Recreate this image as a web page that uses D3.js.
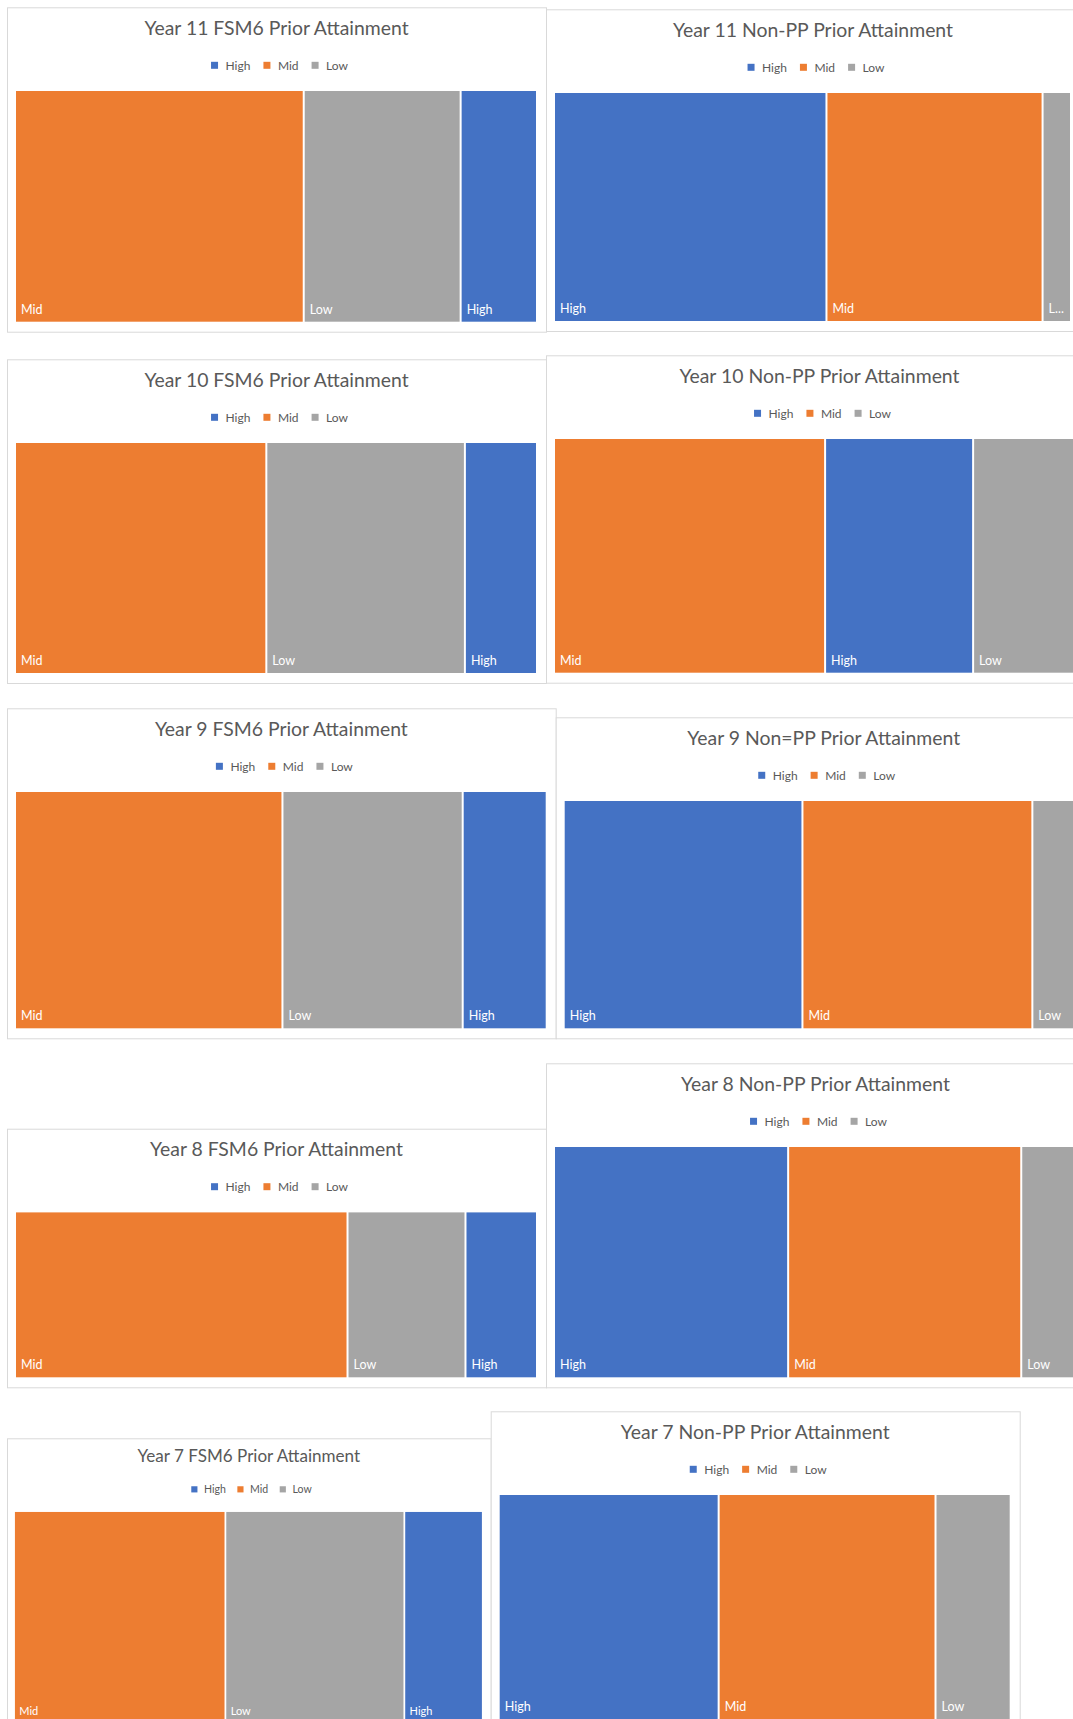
<!DOCTYPE html>
<html><head><meta charset="utf-8">
<script src="https://cdn.jsdelivr.net/npm/d3@7"></script>
<style>html,body{margin:0;padding:0;background:#fff;overflow:hidden}</style>
</head><body>
<svg id="c" width="1073" height="1719"></svg>
<script>
const categories = ["High", "Mid", "Low"];
const chartTitles = [
  "Year 11 FSM6 Prior Attainment", "Year 11 Non-PP Prior Attainment",
  "Year 10 FSM6 Prior Attainment", "Year 10 Non-PP Prior Attainment",
  "Year 9 FSM6 Prior Attainment", "Year 9 Non=PP Prior Attainment",
  "Year 8 FSM6 Prior Attainment", "Year 8 Non-PP Prior Attainment",
  "Year 7 FSM6 Prior Attainment", "Year 7 Non-PP Prior Attainment"
];
const highValues = [14.6, 52.7, 13.8, 27.9, 15.8, 46.0, 13.7, 44.9, 16.7, 43.0];
const midValues  = [55.2, 41.8, 48.1, 51.1, 50.3, 44.3, 63.7, 44.7, 45.0, 42.4];
const lowValues  = [30.0,  5.5, 38.0, 20.9, 33.9,  9.7, 22.6, 10.5, 38.1, 14.7];
const seriesColors = ["#4472C4", "#ED7D31", "#A5A5A5"];

// panel frames (layout only)
const layout = [
  {x:7,     y:7.3,    w:539,   h:324.4, k:1},
  {x:546,   y:9.3,    w:534,   h:321.7, k:1},
  {x:7,     y:359.3,  w:539,   h:323.7, k:1},
  {x:546,   y:355.3,  w:547,   h:327.4, k:1},
  {x:7,     y:708.3,  w:548.7, h:330,   k:1},
  {x:555.7, y:717.3,  w:536,   h:321,   k:1},
  {x:7,     y:1128.7, w:539,   h:258.6, k:1},
  {x:546,   y:1063.3, w:539,   h:324,   k:1},
  {x:7,     y:1438.3, w:483.7, h:293,   k:0.88},
  {x:490.7, y:1411.3, w:529,   h:318,   k:1}
];

const FONT = "Lato, 'Open Sans', sans-serif";
const svg = d3.select("#c");

chartTitles.forEach((title, i) => {
  const L = layout[i], k = L.k;
  const vals = [highValues[i], midValues[i], lowValues[i]];
  const g = svg.append("g").attr("transform", `translate(${L.x},${L.y})`);
  g.append("rect").attr("x", 0.5).attr("y", 0.5).attr("width", L.w).attr("height", L.h)
    .attr("fill", "#fff").attr("stroke", "#D9D9D9").attr("stroke-width", 1);

  const cx = L.w / 2;
  g.append("text").attr("x", cx).attr("y", 27.5 * k).attr("text-anchor", "middle")
    .attr("font-family", FONT).attr("font-size", 19.4 * k).attr("fill", "#595959").text(title);

  // legend
  const lg = g.append("g");
  let xx = 0;
  const sq = 7 * k;
  categories.forEach((c, j) => {
    lg.append("rect").attr("x", xx).attr("y", -sq / 2 - 0.5 * k).attr("width", sq).attr("height", sq).attr("fill", seriesColors[j]);
    const t = lg.append("text").attr("x", xx + sq + 7.5 * k).attr("y", 4.2 * k)
      .attr("font-family", FONT).attr("font-size", 12 * k).attr("fill", "#595959").text(c);
    xx += sq + 7.5 * k + t.node().getComputedTextLength() + 13 * k;
  });
  const lw = xx - 13 * k;
  lg.attr("transform", `translate(${cx - lw / 2 + 3 * k},${58.5 * k})`);

  // treemap
  const px = 9 * k, py = 83.7 * k;
  const pw = L.w - px - 10 * k, ph = L.h - py - 10 * k;
  const root = d3.hierarchy({children: categories.map((c, j) => ({name: c, value: vals[j], color: seriesColors[j]}))})
    .sum(d => d.value || 0).sort((a, b) => b.value - a.value);
  d3.treemap().tile(d3.treemapDice).size([pw, ph]).paddingInner(2 * k)(root);
  const pg = g.append("g").attr("transform", `translate(${px},${py})`);
  const cells = pg.selectAll("g.cell").data(root.leaves()).join("g").attr("class", "cell");
  cells.append("rect").attr("x", d => d.x0).attr("y", d => d.y0)
    .attr("width", d => d.x1 - d.x0).attr("height", d => d.y1 - d.y0)
    .attr("fill", d => d.data.color);
  cells.append("text").attr("x", d => d.x0 + 5 * k).attr("y", d => d.y1 - 8 * k)
    .attr("font-family", FONT).attr("font-size", 12.5 * k).attr("fill", "#fff")
    .text(d => d.data.name)
    .each(function(d) {
      const avail = d.x1 - d.x0 - 8 * k;
      if (this.getComputedTextLength() > avail) d3.select(this).text(d.data.name[0] + "...");
    });
});
</script>
</body></html>
